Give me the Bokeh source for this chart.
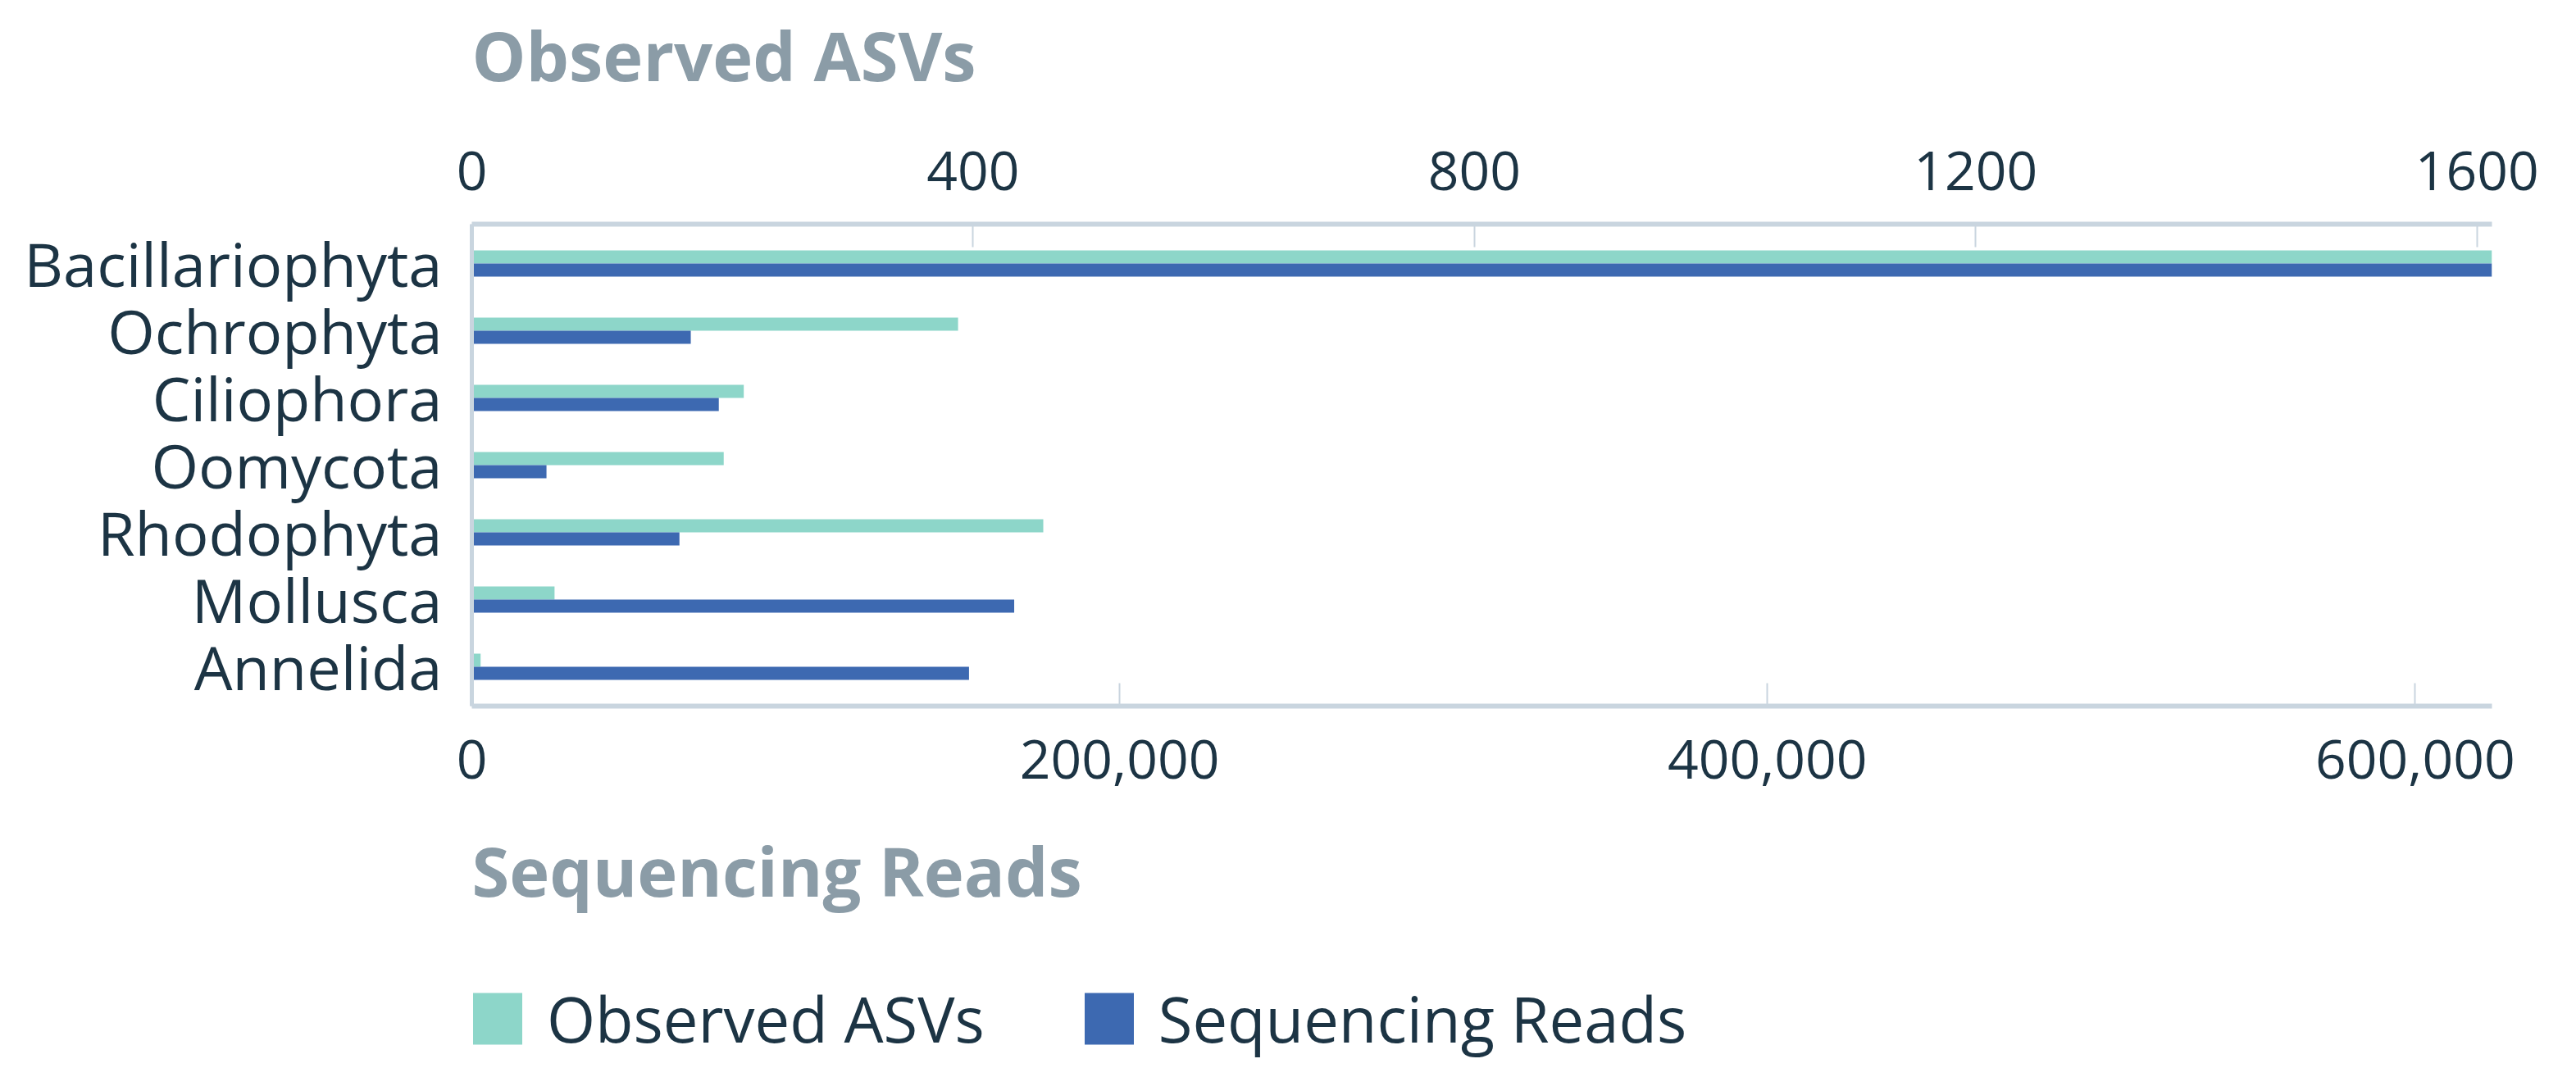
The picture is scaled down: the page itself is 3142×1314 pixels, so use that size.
from bokeh.plotting import figure
from bokeh.layouts import column
from bokeh.models import (FactorRange, Range1d, LinearAxis, FixedTicker, NumeralTickFormatter,
                          ColumnDataSource, Legend, LegendItem, Title)
from bokeh.transform import dodge
from bokeh.embed import file_html
from bokeh.resources import INLINE

categories = ["Bacillariophyta", "Ochrophyta", "Ciliophora", "Oomycota", "Rhodophyta", "Mollusca", "Annelida"]
observed_asvs = [1612, 388, 217, 201, 456, 66, 7]
sequencing_reads = [623700, 67600, 76250, 23050, 64100, 167450, 153500]
asv_ticks = [0, 400, 800, 1200, 1600]
read_ticks = [0, 200000, 400000, 600000]
series_names = ["Observed ASVs", "Sequencing Reads"]

TEAL = "#8dd6c9"
BLUE = "#3d69b1"
AXIS = "#c9d5df"
DARK = "#1c3444"
GRAY = "#8b9ca7"
FONT = "Open Sans"
FS = "66px"
CAT_FS = "74px"

src = ColumnDataSource(dict(cat=categories, asv=observed_asvs, reads=sequencing_reads))

p = figure(frame_width=2464, frame_height=588,
           y_range=FactorRange(factors=list(reversed(categories)), range_padding=0.085,
                               range_padding_units="absolute"),
           x_range=Range1d(0, max(sequencing_reads)),
           output_backend="svg", toolbar_location=None,
           min_border_left=575, min_border_right=103, min_border_top=273, min_border_bottom=300)
p.extra_x_ranges = {"asv": Range1d(0, max(observed_asvs))}
p.outline_line_color = None
p.xgrid.visible = False
p.ygrid.visible = False
p.background_fill_color = "white"
p.border_fill_color = "white"

p.hbar(y=dodge("cat", 0.0975, range=p.y_range), left=0, right="asv", height=0.195,
       x_range_name="asv", fill_color=TEAL, line_color=None, source=src)
p.hbar(y=dodge("cat", -0.0975, range=p.y_range), left=0, right="reads", height=0.195,
       fill_color=BLUE, line_color=None, source=src)

def style_x(ax, standoff):
    ax.axis_line_color = AXIS
    ax.axis_line_width = 6
    ax.major_tick_line_color = AXIS
    ax.major_tick_line_width = 2
    ax.major_tick_in = 28
    ax.major_tick_out = 0
    ax.minor_tick_line_color = None
    ax.major_label_text_font = FONT
    ax.major_label_text_font_size = FS
    ax.major_label_text_color = DARK
    ax.major_label_standoff = standoff

bottom = p.xaxis[0]
bottom.ticker = FixedTicker(ticks=read_ticks)
bottom.formatter = NumeralTickFormatter(format="0,0")
style_x(bottom, 41)

top = LinearAxis(x_range_name="asv", ticker=FixedTicker(ticks=asv_ticks))
style_x(top, 42)
p.add_layout(top, "above")

yax = p.yaxis[0]
yax.axis_line_color = AXIS
yax.axis_line_width = 5
yax.major_tick_line_color = None
yax.minor_tick_line_color = None
yax.major_label_text_font = FONT
yax.major_label_text_font_size = CAT_FS
yax.major_label_text_color = DARK
yax.major_label_standoff = 30

def axis_title(text, gap):
    return Title(text=text, align="left", text_font=FONT, text_font_size="83px",
                 text_font_style="bold", text_color=GRAY, standoff=gap)

# above: axis (inner) -> spacer -> title (outer)
p.add_layout(Title(text=" ", text_font_size="10px", standoff=45), "above")
p.add_layout(axis_title(series_names[0], 2), "above")
# below: axis -> title
p.add_layout(axis_title(series_names[1], 100), "below")

# legend strip (separate figure directly below the chart)
lg = figure(width=3142, height=150, output_backend="svg", toolbar_location=None,
            x_axis_type=None, y_axis_type=None, min_border_left=495, min_border_right=0,
            min_border_top=30, min_border_bottom=0, x_range=Range1d(0, 1), y_range=Range1d(0, 1))
lg.outline_line_color = None
lg.xgrid.visible = False
lg.ygrid.visible = False
k1 = lg.hbar(y="cat", left=0, right="asv", height=0.195, fill_color=TEAL, line_color=None,
             source=src, visible=False)
k2 = lg.hbar(y="cat", left=0, right="reads", height=0.195, fill_color=BLUE, line_color=None,
             source=src, visible=False)
legend = Legend(items=[LegendItem(label=series_names[0], renderers=[k1]),
                       LegendItem(label=series_names[1], renderers=[k2])],
                orientation="horizontal", location="top_left",
                glyph_width=75, glyph_height=79, label_height=79, label_standoff=23, spacing=114,
                label_text_font=FONT, label_text_font_size="76px", label_text_color=DARK,
                border_line_color=None, background_fill_alpha=0, padding=0, margin=-6)
lg.add_layout(legend, "center")

layout = column(p, lg, spacing=0)
open("out.html", "w").write(file_html(layout, INLINE))
